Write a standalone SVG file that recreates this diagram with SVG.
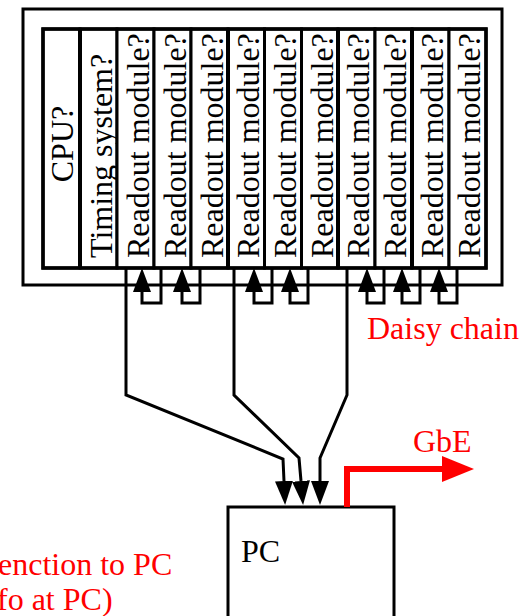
<svg xmlns="http://www.w3.org/2000/svg" width="519" height="616" viewBox="0 0 519 616">
<style>
.box{fill:#fff;stroke:#000;stroke-width:3}
.lbl{font-family:"Liberation Serif","Times New Roman",serif;font-size:32px;fill:#000}
.red{fill:#f00}
.wire{fill:none;stroke:#000;stroke-width:3;stroke-linejoin:miter}
.gbe{fill:none;stroke:#f00;stroke-width:6;stroke-linejoin:miter}
</style>
<defs>
<marker id="ah" markerUnits="userSpaceOnUse" viewBox="0 0 24 18" refX="0" refY="9" markerWidth="24" markerHeight="18" orient="auto">
<path d="M0,0 L24,9 L0,18 z" fill="#000"/>
</marker>
<marker id="ahr" markerUnits="userSpaceOnUse" viewBox="0 0 32 26" refX="0" refY="13" markerWidth="32" markerHeight="26" orient="auto">
<path d="M0,0 L32,13 L0,26 z" fill="#f00"/>
</marker>
</defs>

<g id="crate">
<rect class="box" x="23" y="9" width="479" height="276"/>
</g>

<g id="cpu"><rect class="box" x="43" y="29" width="37" height="239"/><text class="lbl" transform="translate(73,144) rotate(-90)" text-anchor="middle">CPU?</text></g>
<g id="timing"><rect class="box" x="80" y="29" width="37" height="239"/><text class="lbl" transform="translate(112,258) rotate(-90)">Timing system?</text></g>
<g id="rm1"><rect class="box" x="117" y="29" width="37" height="239"/><text class="lbl" transform="translate(149,258) rotate(-90)">Readout module?</text></g>
<g id="rm2"><rect class="box" x="154" y="29" width="37" height="239"/><text class="lbl" transform="translate(186,258) rotate(-90)">Readout module?</text></g>
<g id="rm3"><rect class="box" x="191" y="29" width="37" height="239"/><text class="lbl" transform="translate(223,258) rotate(-90)">Readout module?</text></g>
<g id="rm4"><rect class="box" x="228" y="29" width="36.5" height="239"/><text class="lbl" transform="translate(259,258) rotate(-90)">Readout module?</text></g>
<g id="rm5"><rect class="box" x="264.5" y="29" width="37" height="239"/><text class="lbl" transform="translate(296,258) rotate(-90)">Readout module?</text></g>
<g id="rm6"><rect class="box" x="301.5" y="29" width="36.5" height="239"/><text class="lbl" transform="translate(333,258) rotate(-90)">Readout module?</text></g>
<g id="rm7"><rect class="box" x="338" y="29" width="37" height="239"/><text class="lbl" transform="translate(369,258) rotate(-90)">Readout module?</text></g>
<g id="rm8"><rect class="box" x="375" y="29" width="37" height="239"/><text class="lbl" transform="translate(406,258) rotate(-90)">Readout module?</text></g>
<g id="rm9"><rect class="box" x="412" y="29" width="37" height="239"/><text class="lbl" transform="translate(443,258) rotate(-90)">Readout module?</text></g>
<g id="rm10"><rect class="box" x="449" y="29" width="37" height="239"/><text class="lbl" transform="translate(480,258) rotate(-90)">Readout module?</text></g>
<g id="inner-frame"><rect x="43" y="29" width="443" height="239" fill="none" stroke="#000" stroke-width="3.5"/>
<line x1="80" y1="29" x2="80" y2="268" stroke="#000" stroke-width="4"/>
<line x1="228" y1="29" x2="228" y2="268" stroke="#000" stroke-width="4"/>
<line x1="338" y1="29" x2="338" y2="268" stroke="#000" stroke-width="4"/>
<line x1="412" y1="29" x2="412" y2="268" stroke="#000" stroke-width="4"/>
</g>

<g id="pc"><rect class="box" x="228" y="507" width="166" height="130"/><text class="lbl" x="241" y="562">PC</text></g>

<g id="connectors">
<path class="wire" d="M161,268 V303 H142 V292" marker-end="url(#ah)"/>
<path class="wire" d="M200,268 V303 H182 V292" marker-end="url(#ah)"/>
<path class="wire" d="M272,268 V303 H254 V292" marker-end="url(#ah)"/>
<path class="wire" d="M308,268 V303 H290 V292" marker-end="url(#ah)"/>
<path class="wire" d="M384,268 V303 H367 V292" marker-end="url(#ah)"/>
<path class="wire" d="M420,268 V303 H402 V292" marker-end="url(#ah)"/>
<path class="wire" d="M457,268 V303 H439 V292" marker-end="url(#ah)"/>
<path class="wire" d="M126,268 V395 L283,459 L284,481" marker-end="url(#ah)"/>
<path class="wire" d="M234,268 V395 L299,458 L301,481" marker-end="url(#ah)"/>
<path class="wire" d="M347,268 V395 L320,458 L320,481" marker-end="url(#ah)"/>
<path class="gbe" d="M347,507 V469 H442" marker-end="url(#ahr)"/>
</g>

<g id="labels">
<text class="lbl red" x="367" y="339">Daisy chain</text>
<text class="lbl red" x="413" y="452">GbE</text>
<text class="lbl red" x="-2" y="575">enction to PC</text>
<text class="lbl red" x="-3" y="610">fo at PC)</text>
</g>
</svg>
